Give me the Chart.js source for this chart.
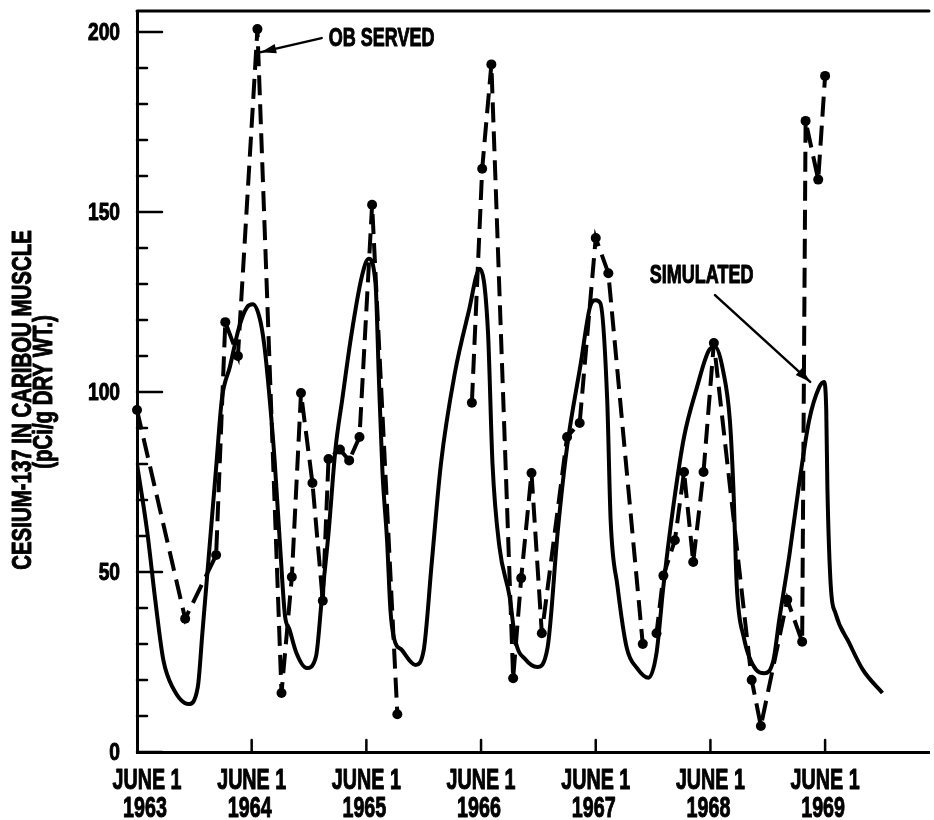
<!DOCTYPE html>
<html>
<head>
<meta charset="utf-8">
<script src="https://cdn.jsdelivr.net/npm/chart.js@4/dist/chart.umd.min.js"></script>
<style>
  html, body { margin: 0; padding: 0; background: #fff; }
  #wrap { width: 934px; height: 820px; }
</style>
</head>
<body>
<div id="wrap"><canvas id="chart" width="934" height="820"></canvas></div>
<script>
// x values are years after June 1, 1963
var xTicks = [0, 1, 2, 3, 4, 5, 6];
var xTickLabels = [
    ['JUNE 1', '1963'], ['JUNE 1', '1964'], ['JUNE 1', '1965'], ['JUNE 1', '1966'],
    ['JUNE 1', '1967'], ['JUNE 1', '1968'], ['JUNE 1', '1969']
];
var yTicks = [0, 50, 100, 150, 200];
var yTitle = ['CESIUM-137 IN CARIBOU MUSCLE', '(pCi/g DRY WT.)'];

// observed (dashed line with dots), null = break in the line
var observedX = [0.00, 0.42, 0.69, 0.77, 0.88, 1.05, 1.26, 1.35, 1.43, 1.53, 1.62, 1.67, 1.77, 1.85, 1.94, 2.05, 2.27,
    2.60,
    2.92, 3.01, 3.09, 3.28, 3.35, 3.44, 3.53, 3.75, 3.86, 4.00, 4.11, 4.41, 4.53, 4.59, 4.69, 4.77, 4.85, 4.94, 5.03,
    5.36, 5.44, 5.67, 5.80, 5.83, 5.94, 6.00];
var observedY = [95, 37, 54.7, 119.4, 110, 200.8, 16.4, 48.6, 99.7, 74.7, 42, 81.4, 84, 81, 87.5, 152, 10.5,
    null,
    97, 162, 191, 20.5, 48.3, 77.5, 33, 87.5, 91.4, 142.8, 133, 30, 33, 49, 58.8, 77.8, 52.8, 77.8, 113.6,
    20, 7.2, 42.3, 30.6, 175.3, 159, 187.8];

// simulated (solid line)
var simulatedX = [0.00, 0.09, 0.16, 0.23, 0.31, 0.45, 0.53, 0.57, 0.63, 0.69, 0.74, 0.81, 0.89, 0.96, 1.01, 1.07,
    1.11, 1.15, 1.20, 1.25, 1.29, 1.33, 1.39, 1.48, 1.56, 1.61, 1.67, 1.73, 1.79, 1.87, 1.96, 2.02, 2.08, 2.11,
    2.14, 2.18, 2.21, 2.24, 2.31, 2.43, 2.50, 2.57, 2.65, 2.77, 2.89, 2.99, 3.06, 3.10, 3.16, 3.25, 3.30, 3.39,
    3.49, 3.58, 3.67, 3.75, 3.87, 3.95, 4.00, 4.04, 4.10, 4.13, 4.19, 4.27, 4.36, 4.46, 4.53, 4.59, 4.68, 4.77,
    4.88, 4.99, 5.04, 5.11, 5.17, 5.20, 5.23, 5.29, 5.40, 5.47, 5.55, 5.60, 5.69, 5.77, 5.86, 5.95, 5.99, 6.01,
    6.02, 6.05, 6.09, 6.21, 6.33, 6.50];
var simulatedY = [80, 61, 42, 25.5, 18, 13.3, 18, 33, 56, 79, 98, 107, 118, 123.6, 124.4, 120.5,
    113, 100.5, 81, 56, 38, 34, 27.5, 23.3, 26.4, 42, 60.8, 84, 98, 116, 132, 137, 130, 103,
    78, 59, 39.4, 31.7, 28.3, 24.2, 28.3, 52.5, 80, 105, 122, 134.2, 117, 80, 57, 43, 31, 25.6,
    23.6, 29, 61.7, 84.7, 108, 123.6, 125.5, 124.7, 97.8, 64.4, 46, 29, 23.3, 20.6, 27.5, 46, 69, 87.5,
    101, 111.7, 112.5, 106, 92, 73.6, 46, 32, 22.8, 21.9, 25.6, 36.7, 55, 73.6, 92, 101.4, 102.8, 95,
    73.6, 45.8, 38.6, 30.3, 22.8, 16.4];

// callout labels: text anchor and arrow (tail -> head), in data units
var calloutText = ['OB SERVED', 'SIMULATED'];
var calloutAt = [[1.672, 198], [4.471, 132.2]];
var calloutArrow = [[[1.61, 198.3], [1.08, 194.4]], [[5.04, 126.9], [5.87, 102.8]]];

var FONT = "'Liberation Sans', Arial, sans-serif";

function toPoints(xs, ys) {
    return xs.map(function (x, i) { return {x: x, y: ys[i]}; });
}

// the original lettering is a tall, heavy condensed face: squeeze it and thicken a bit
function condText(ctx, str, x, y, size, sx, align) {
    ctx.save();
    ctx.translate(x, y);
    ctx.scale(sx, 1);
    ctx.font = 'bold ' + size + 'px ' + FONT;
    ctx.textAlign = align;
    ctx.textBaseline = 'middle';
    ctx.lineWidth = 1;
    ctx.lineJoin = 'round';
    ctx.fillText(str, 0, 0);
    ctx.strokeText(str, 0, 0);
    ctx.restore();
}

var frame = {
    id: 'frame',
    afterDatasetsDraw: function (chart) {
        var ctx = chart.ctx, a = chart.chartArea;
        var xs = chart.scales.x, ys = chart.scales.y;
        ctx.save();
        ctx.strokeStyle = '#000';
        ctx.fillStyle = '#000';
        ctx.lineCap = 'round';
        // top border
        ctx.lineWidth = 3;
        ctx.beginPath();
        ctx.moveTo(a.left, a.top);
        ctx.lineTo(a.right, a.top);
        ctx.stroke();
        // y ticks, pointing into the plot
        ctx.lineWidth = 2.5;
        for (var v = 0; v <= 200; v += 10) {
            var py = ys.getPixelForValue(v);
            var len = (v % 50 === 0) ? 25 : 10;
            ctx.beginPath();
            ctx.moveTo(a.left, py);
            ctx.lineTo(a.left + len, py);
            ctx.stroke();
        }
        // y labels
        yTicks.forEach(function (t) {
            condText(ctx, String(t), a.left - 17, ys.getPixelForValue(t) + 1, 24, 0.8, 'right');
        });
        // x ticks and labels
        xTicks.forEach(function (t, i) {
            var px = xs.getPixelForValue(t);
            if (t !== 0) {
                ctx.lineWidth = 2.5;
                ctx.beginPath();
                ctx.moveTo(px, a.bottom);
                ctx.lineTo(px, a.bottom - 12);
                ctx.stroke();
            }
            var cx = px + (i === 0 ? 10 : 0);
            condText(ctx, xTickLabels[i][0], cx, a.bottom + 29, 29, 0.68, 'center');
            condText(ctx, xTickLabels[i][1], cx - 2, a.bottom + 57, 29, 0.68, 'center');
        });
        // y title, rotated
        ctx.save();
        ctx.translate(0, 400);
        ctx.rotate(-Math.PI / 2);
        condText(ctx, yTitle[0], 0, 23, 28, 0.73, 'center');
        condText(ctx, yTitle[1], 8, 44, 28, 0.73, 'center');
        ctx.restore();
        // callouts
        calloutText.forEach(function (txt, i) {
            condText(ctx, txt, xs.getPixelForValue(calloutAt[i][0]), ys.getPixelForValue(calloutAt[i][1]), 25, 0.72, 'left');
            var x1 = xs.getPixelForValue(calloutArrow[i][0][0]), y1 = ys.getPixelForValue(calloutArrow[i][0][1]);
            var x2 = xs.getPixelForValue(calloutArrow[i][1][0]), y2 = ys.getPixelForValue(calloutArrow[i][1][1]);
            var ang = Math.atan2(y2 - y1, x2 - x1);
            ctx.lineWidth = 2.5;
            ctx.beginPath();
            ctx.moveTo(x1, y1);
            ctx.lineTo(x2, y2);
            ctx.stroke();
            ctx.beginPath();
            ctx.moveTo(x2, y2);
            ctx.lineTo(x2 - 16 * Math.cos(ang - 0.3), y2 - 16 * Math.sin(ang - 0.3));
            ctx.lineTo(x2 - 16 * Math.cos(ang + 0.3), y2 - 16 * Math.sin(ang + 0.3));
            ctx.closePath();
            ctx.fill();
        });
        ctx.restore();
    }
};

new Chart(document.getElementById('chart').getContext('2d'), {
    type: 'line',
    data: {
        datasets: [{
            label: 'Observed',
            data: toPoints(observedX, observedY),
            borderColor: '#000',
            backgroundColor: '#000',
            borderWidth: 4,
            borderDash: [20, 9],
            pointRadius: 5,
            pointBorderWidth: 0,
            tension: 0,
            spanGaps: false,
            clip: false
        }, {
            label: 'Simulated',
            data: toPoints(simulatedX, simulatedY),
            borderColor: '#000',
            borderWidth: 4,
            pointRadius: 0,
            cubicInterpolationMode: 'monotone'
        }]
    },
    options: {
        responsive: false,
        animation: false,
        layout: {padding: {top: 11, left: 0, right: 0, bottom: 0}},
        plugins: {legend: {display: false}, tooltip: {enabled: false}},
        scales: {
            x: {
                type: 'linear',
                min: 0,
                max: 6.906,
                afterFit: function (s) { s.height = 68; },
                afterBuildTicks: function (s) { s.ticks = xTicks.map(function (v) { return {value: v}; }); },
                grid: {display: false, drawTicks: false},
                border: {display: true, color: '#000', width: 3},
                ticks: {display: false}
            },
            y: {
                min: 0,
                max: 205.83,
                afterFit: function (s) { s.width = 137; },
                afterBuildTicks: function (s) { s.ticks = yTicks.map(function (v) { return {value: v}; }); },
                grid: {display: false, drawTicks: false},
                border: {display: true, color: '#000', width: 3},
                ticks: {display: false}
            }
        }
    },
    plugins: [frame]
});
</script>
</body>
</html>
